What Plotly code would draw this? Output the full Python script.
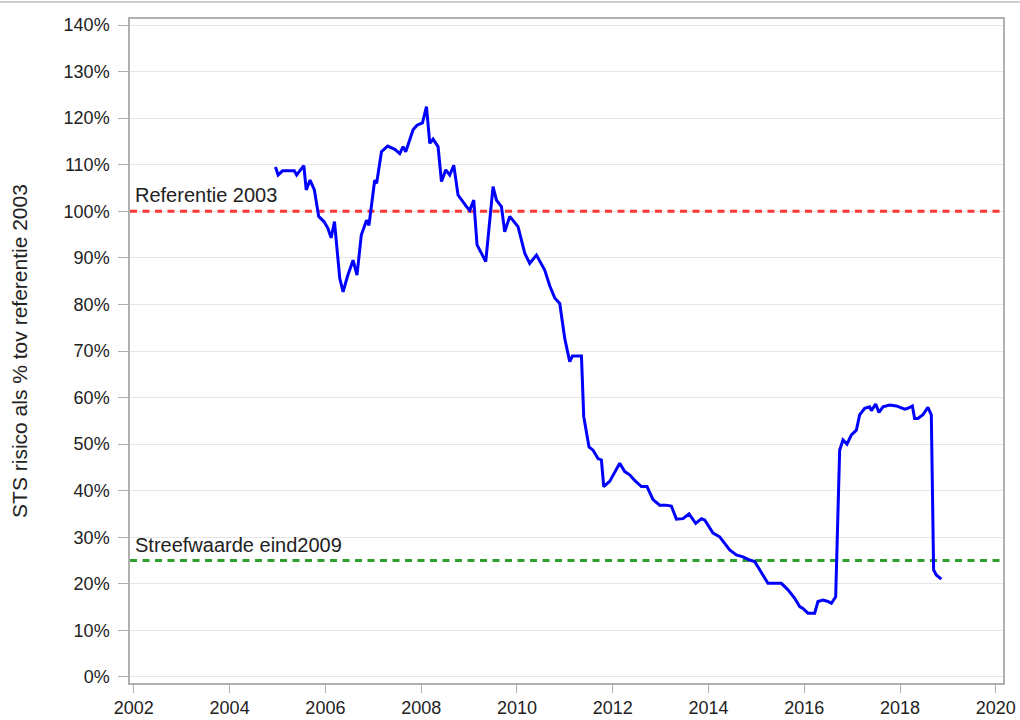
import plotly.graph_objects as go

years = [
    2004.958, 2005.013, 2005.104, 2005.350, 2005.400, 2005.550, 2005.600, 2005.680, 2005.770,
    2005.840, 2005.860, 2005.970, 2006.050, 2006.120, 2006.190, 2006.300, 2006.370, 2006.460,
    2006.578, 2006.660, 2006.750, 2006.860, 2006.910, 2007.030, 2007.070, 2007.171, 2007.300,
    2007.450, 2007.553, 2007.622, 2007.678, 2007.831, 2007.914, 2008.027, 2008.111, 2008.180,
    2008.248, 2008.353, 2008.424, 2008.514, 2008.597, 2008.681, 2008.770, 2008.946, 2009.015,
    2009.098, 2009.167, 2009.349, 2009.501, 2009.572, 2009.676, 2009.745, 2009.850, 2010.023,
    2010.163, 2010.267, 2010.407, 2010.580, 2010.685, 2010.789, 2010.894, 2010.998, 2011.102,
    2011.159, 2011.347, 2011.395, 2011.505, 2011.589, 2011.693, 2011.764, 2011.812, 2011.937,
    2012.146, 2012.251, 2012.355, 2012.459, 2012.599, 2012.716, 2012.841, 2012.981, 2013.106,
    2013.225, 2013.330, 2013.468, 2013.593, 2013.733, 2013.852, 2013.921, 2014.094, 2014.234,
    2014.338, 2014.443, 2014.582, 2014.720, 2014.860, 2014.965, 2015.069, 2015.242, 2015.522,
    2015.660, 2015.800, 2015.904, 2015.973, 2016.077, 2016.217, 2016.286, 2016.390, 2016.495,
    2016.566, 2016.656, 2016.739, 2016.808, 2016.892, 2016.984, 2017.088, 2017.157, 2017.261,
    2017.365, 2017.401, 2017.491, 2017.560, 2017.643, 2017.783, 2017.923, 2018.096, 2018.165,
    2018.257, 2018.305, 2018.372, 2018.478, 2018.582, 2018.653, 2018.701, 2018.757, 2018.862,
]
sts_pct = [
    109.5, 107.8, 108.7, 108.7, 107.8, 109.8, 104.6, 106.7, 104.6,
    99.9, 98.9, 97.8, 96.4, 94.3, 97.8, 85.6, 82.7, 86.0,
    89.5, 86.3, 94.9, 98.1, 97.0, 106.7, 106.0, 112.8, 114.0,
    113.3, 112.4, 113.9, 112.8, 117.5, 118.5, 119.0, 122.5, 114.6,
    115.5, 113.9, 106.4, 108.9, 107.8, 109.9, 103.5, 101.0, 100.2,
    102.4, 92.8, 89.2, 105.3, 102.4, 101.0, 95.6, 98.9, 96.7,
    91.0, 88.8, 90.6, 87.4, 84.0, 81.4, 80.2, 72.7, 67.7,
    68.9, 68.9, 55.9, 49.4, 48.7, 46.9, 46.6, 40.9, 42.0,
    45.9, 44.1, 43.4, 42.2, 40.9, 40.9, 38.1, 36.9, 36.9,
    36.7, 33.9, 34.0, 35.0, 33.0, 34.0, 33.7, 30.9, 30.1,
    28.7, 27.3, 26.2, 25.8, 25.1, 24.8, 23.0, 20.1, 20.1,
    18.7, 16.9, 15.1, 14.7, 13.7, 13.7, 16.2, 16.5, 16.2,
    15.8, 17.2, 48.7, 50.9, 50.0, 52.0, 53.0, 56.3, 57.7,
    58.0, 57.2, 58.6, 56.8, 58.0, 58.4, 58.2, 57.5, 57.7,
    58.2, 55.5, 55.5, 56.3, 57.9, 56.3, 23.0, 21.9, 21.0,
]

ref_value = 100
ref_label = "Referentie 2003"
target_value = 25
target_label = "Streefwaarde eind2009"
x_ticks = list(range(2002, 2021, 2))
y_ticks = list(range(0, 141, 10))
y_tick_labels = [f"{v}%" for v in y_ticks]
y_title = "STS risico als % tov referentie 2003"

FONT = "Liberation Sans, Arial, sans-serif"
TXT = "#222222"
x_range = [2001.92, 2020.15]

fig = go.Figure()
fig.add_trace(go.Scatter(
    x=x_range, y=[ref_value, ref_value], mode="lines",
    line=dict(color="rgb(255,55,55)", width=3, dash="7px,5.5px"),
    hoverinfo="skip", showlegend=False,
))
fig.add_trace(go.Scatter(
    x=x_range, y=[target_value, target_value], mode="lines",
    line=dict(color="rgb(45,160,45)", width=3, dash="7px,5.5px"),
    hoverinfo="skip", showlegend=False,
))
fig.add_trace(go.Scatter(
    x=years, y=sts_pct, mode="lines",
    line=dict(color="#0000ff", width=3),
    showlegend=False,
))

fig.add_annotation(x=0.003, xref="paper", y=ref_value, yref="y", text=ref_label,
                   showarrow=False, xanchor="left", yanchor="bottom", yshift=3,
                   font=dict(family=FONT, size=20, color=TXT))
fig.add_annotation(x=0.003, xref="paper", y=target_value, yref="y", text=target_label,
                   showarrow=False, xanchor="left", yanchor="bottom", yshift=3,
                   font=dict(family=FONT, size=20, color=TXT))

# thin top border line of the page
fig.add_shape(type="line", xref="paper", yref="paper", x0=-0.2, x1=1.1,
              y0=1.0256, y1=1.0256, line=dict(color="#bdbdbd", width=1.5))

fig.update_layout(
    width=1020, height=720,
    margin=dict(l=130, r=17, t=19, b=37, autoexpand=False),
    paper_bgcolor="white", plot_bgcolor="white",
    font=dict(family=FONT, size=18, color=TXT),
    showlegend=False,
)
fig.update_xaxes(
    range=x_range, tickvals=x_ticks, showgrid=False, automargin=False,
    showline=True, linecolor="#b0b0b0", linewidth=1.5, mirror=True,
    ticks="outside", ticklen=8, tickcolor="#b0b0b0", ticklabelstandoff=0,
    tickfont=dict(family=FONT, size=18, color=TXT), zeroline=False,
)
fig.update_yaxes(
    range=[-1.3, 141.3], tickvals=y_ticks, ticktext=y_tick_labels,
    showgrid=True, gridcolor="#e6e6e6", gridwidth=1, automargin=False,
    showline=True, linecolor="#b0b0b0", linewidth=1.5, mirror=True,
    ticks="outside", ticklen=10, tickcolor="#b0b0b0", ticklabelstandoff=5,
    tickfont=dict(family=FONT, size=18, color=TXT), zeroline=False,
    title=dict(text=y_title, font=dict(family=FONT, size=21, color=TXT), standoff=30),
)

fig.write_html(
    "out.html",
    config={"displayModeBar": False},
    post_script="document.body.style.margin='0';document.body.style.overflow='hidden';",
)
